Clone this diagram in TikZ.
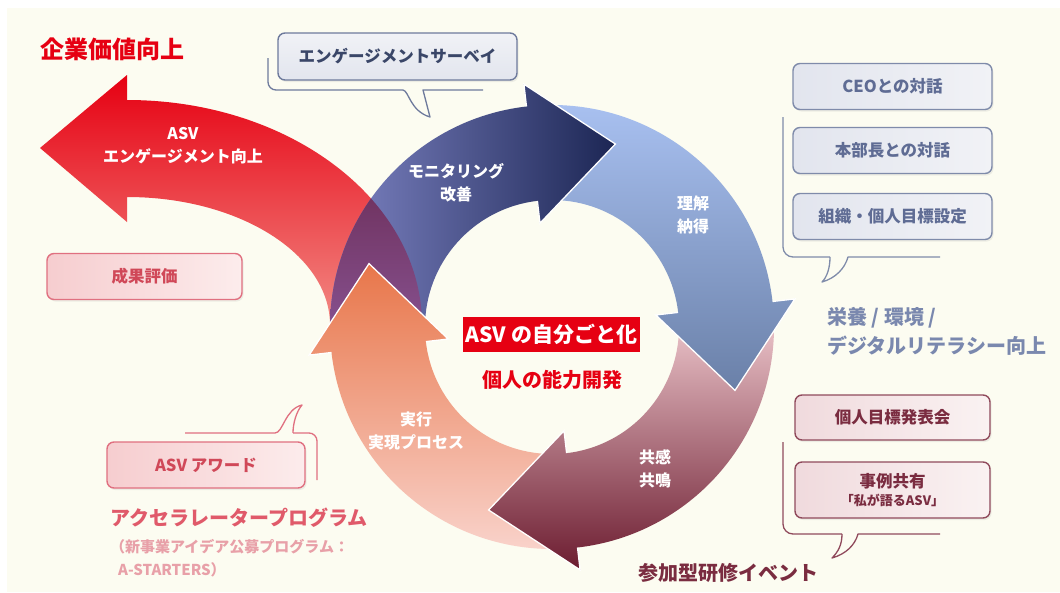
\documentclass[tikz,border=0pt]{standalone}
\usepackage{fontspec}
\setmainfont{Noto Sans CJK JP}
\usetikzlibrary{calc,shadows}
\definecolor{bgcream}{HTML}{FCFCF1}
\definecolor{asvred}{HTML}{E60012}
\definecolor{redmid}{HTML}{E81E2C}
\definecolor{redlow}{HTML}{F28A84}
\definecolor{blueL}{HTML}{7E84C4}
\definecolor{blueM}{HTML}{4C5592}
\definecolor{blueR}{HTML}{1C2654}
\definecolor{ovtop}{HTML}{5E1C3C}
\definecolor{ovbot}{HTML}{86508E}
\definecolor{lbT}{HTML}{A8C0F0}
\definecolor{lbB}{HTML}{6A80A8}
\definecolor{drT}{HTML}{E8C0C6}
\definecolor{drM}{HTML}{9E5064}
\definecolor{drB}{HTML}{6C1C30}
\definecolor{orT}{HTML}{E8764A}
\definecolor{orM}{HTML}{F09A84}
\definecolor{orB}{HTML}{F9D2CA}
\definecolor{gbdraw}{HTML}{7F8BAA}
\definecolor{gbtext}{HTML}{5F6C94}
\definecolor{gbfillL}{HTML}{E2E5EE}
\definecolor{gbfillR}{HTML}{F1F2F6}
\definecolor{svdraw}{HTML}{6E7A9C}
\definecolor{svtext}{HTML}{3A4668}
\definecolor{pkdraw}{HTML}{E07080}
\definecolor{pktext}{HTML}{D04858}
\definecolor{pkfillL}{HTML}{F6CDCF}
\definecolor{pkfillR}{HTML}{FCECEC}
\definecolor{mrdraw}{HTML}{904A5C}
\definecolor{mrtext}{HTML}{7A2C40}
\definecolor{mrfillL}{HTML}{F0DADD}
\definecolor{mrfillR}{HTML}{FAF2F2}
\definecolor{eiyo}{HTML}{7A88AE}
\definecolor{accel}{HTML}{E05A6A}
\definecolor{accelsub}{HTML}{E8A0A8}

\newcommand\cyclepath[1]{($(C)+(#1:222)$) arc[start angle=#1, delta angle=83.4, radius=222] -- ($(C)+(#1+83.4:244.5)$) -- ($(C)+(#1+83.4:174.5)+(#1+173.4:84)$) -- ($(C)+(#1+83.4:104.5)$) -- ($(C)+(#1+83.4:127)$) arc[start angle=#1+83.4, delta angle=-83.4, radius=127] -- cycle}
\newcommand\cyclehead[1]{($(C)+(#1+83.4:244.5)$) -- ($(C)+(#1+83.4:174.5)+(#1+173.4:84)$) -- ($(C)+(#1+83.4:104.5)$) -- cycle}
\newcommand\cycleoutline[1]{($(C)+(#1+83.4:222)$) -- ($(C)+(#1+83.4:244.5)$) -- ($(C)+(#1+83.4:174.5)+(#1+173.4:84)$) -- ($(C)+(#1+83.4:104.5)$) -- ($(C)+(#1+83.4:127)$)}
\newcommand\redpath{(422,325) arc[start angle=0, end angle=-90, x radius=295, y radius=225] -- (127,75) -- (40,148) -- (127,222) -- (127,197) arc[start angle=-90, end angle=0, x radius=203, y radius=128] -- cycle}

\begin{document}
\begin{tikzpicture}[x=1pt,y=-1pt,
  lbl/.style={text=white, align=center, inner sep=0pt, font=\bfseries\fontsize{16}{23}\selectfont},
  boxbase/.style={line width=1.4pt, rounded corners=7pt, inner sep=0pt, align=center,
     drop shadow={opacity=0.12, shadow xshift=1.5pt, shadow yshift=-2pt},
     font=\bfseries\fontsize{16.5}{20}\selectfont},
  gbox/.style={boxbase, draw=gbdraw, left color=gbfillL, right color=gbfillR, text=gbtext,
     minimum width=199pt, minimum height=46pt},
  pbox/.style={boxbase, draw=pkdraw, left color=pkfillL, right color=pkfillR, text=pktext,
     minimum height=46pt},
  mbox/.style={boxbase, draw=mrdraw, left color=mrfillL, right color=mrfillR, text=mrtext,
     minimum width=195pt},
  bubgb/.style={draw=gbdraw, line width=1.3pt},
  headline/.style={white, line width=1.3pt, line join=miter}
]
\useasboundingbox (0,0) rectangle (1060,592);
\fill[white] (0,0) rectangle (1060,592);
\fill[bgcream] (7,8) rectangle (1060,592);
\coordinate (C) at (552,327);

% big red arrow
\shade[top color=asvred, middle color=redmid, bottom color=redlow] \redpath;
% blue top arrow
\shade[left color=blueL, middle color=blueM, right color=blueR] \cyclepath{180};
% overlap red/blue
\begin{scope}
  \clip \redpath;
  \shade[top color=ovtop, bottom color=ovbot] \cyclepath{180};
\end{scope}
% orange left arrow
\shade[top color=orT, middle color=orM, bottom color=orB] \cyclepath{90};
% dark red bottom arrow
\shade[top color=drT, middle color=drM, bottom color=drB] \cyclepath{0};
% light blue right arrow
\shade[top color=lbT, bottom color=lbB] \cyclepath{270};
% blue head on top
\begin{scope}
  \clip \cyclehead{180};
  \shade[left color=blueL, middle color=blueM, right color=blueR] \cyclepath{180};
\end{scope}
% white outlines of heads
\draw[headline] \cycleoutline{180};
\draw[headline] \cycleoutline{270};
\draw[headline] \cycleoutline{0};
\draw[headline] \cycleoutline{90};

% arrow labels
\node[lbl] (l1) at (183,146) {ASV\\エンゲージメント向上};
\node[lbl] (l2) at (456,183) {モニタリング\\改善};
\node[lbl] (l3) at (693,215) {理解\\納得};
\node[lbl] (l4) at (655,469) {共感\\共鳴};
\node[lbl] (l5) at (416,431) {実行\\実現プロセス};

% centre
\node[fill=asvred, text=white, inner sep=0pt, minimum width=177pt, minimum height=35pt,
      font=\bfseries\fontsize{21}{24}\selectfont] (asv) at (551.5,334.5) {ASV の自分ごと化};
\node[text=asvred, inner sep=0pt, font=\bfseries\fontsize{20}{24}\selectfont] (dev) at (552,380) {個人の能力開発};

% title
\node[anchor=west, text=asvred, inner sep=0pt, font=\bfseries\fontsize{24}{28}\selectfont] (title) at (40,49) {企業価値向上};

% survey bubble
\draw[draw=svdraw, line width=1.3pt, rounded corners=8pt] (268,58) -- (268,90) -- (403,90);
\draw[draw=svdraw, line width=1.3pt, line join=round] (403,90) .. controls (409,91) and (410,111) .. (430,117) -- (423,90) -- (483,90);
\node[boxbase, draw=svdraw, top color=gbfillR, bottom color=gbfillL, text=svtext,
      minimum width=239pt, minimum height=47pt] (survey) at (397.5,56.5) {エンゲージメントサーベイ};

% CEO group
\draw[bubgb, rounded corners=10pt] (783,117) -- (783,257) -- (830,257);
\draw[bubgb, line join=round] (830,257) .. controls (830,268) and (827,277) .. (822,282) .. controls (836,278) and (845,268) .. (848,257) -- (940,257);
\node[gbox] (ceo) at (892.5,86.5) {CEOとの対話};
\node[gbox] (hq) at (892.5,150.5) {本部長との対話};
\node[gbox] (goal) at (892.5,216.5) {組織・個人目標設定};
\node[anchor=west, text=eiyo, inner sep=0pt, font=\bfseries\fontsize{20}{24}\selectfont] (eiyo1) at (827,318) {栄養 / 環境 /};
\node[anchor=west, text=eiyo, inner sep=0pt, font=\bfseries\fontsize{20}{24}\selectfont] (eiyo2) at (827,346) {デジタルリテラシー向上};

% left boxes
\node[pbox, minimum width=195pt] (seika) at (144.5,276.5) {成果評価};
\draw[draw=pkdraw, line width=1.3pt, line join=round] (185,433) -- (275,433) .. controls (283,433) and (285,409) .. (302,405) .. controls (296,412) and (293,424) .. (293,433);
\draw[draw=pkdraw, line width=1.3pt, rounded corners=8pt] (293,433) -- (317,433) -- (317,480);
\node[pbox, minimum width=198pt] (award) at (206,465) {ASV アワード};
\node[anchor=west, text=accel, inner sep=0pt, font=\bfseries\fontsize{20}{24}\selectfont] (accel) at (110,518) {アクセラレータープログラム};
\node[anchor=west, text=accelsub, inner sep=0pt, font=\bfseries\fontsize{15}{18}\selectfont] (accel2) at (110,547) {（新事業アイデア公募プログラム：};
\node[anchor=west, text=accelsub, inner sep=0pt, font=\bfseries\fontsize{15}{18}\selectfont] (accel3) at (118,570) {A-STARTERS）};

% bottom right group
\draw[draw=mrdraw, line width=1.3pt, rounded corners=10pt] (783,442) -- (783,534) -- (842,534);
\draw[draw=mrdraw, line width=1.3pt, line join=round] (842,534) .. controls (842,545) and (838,552) .. (832,558) .. controls (846,554) and (855,545) .. (858,534) -- (940,534);
\node[mbox, minimum height=45pt] (happyo) at (892.5,417.5) {個人目標発表会};
\node[mbox, minimum height=56pt] (jirei) at (892.5,490) {事例共有\\[-2pt]{\fontsize{13}{15}\selectfont 「私が語るASV」}};
\node[anchor=west, text=mrtext, inner sep=0pt, font=\bfseries\fontsize{20}{24}\selectfont] (sanka) at (638,573) {参加型研修イベント};
\end{tikzpicture}
\end{document}
